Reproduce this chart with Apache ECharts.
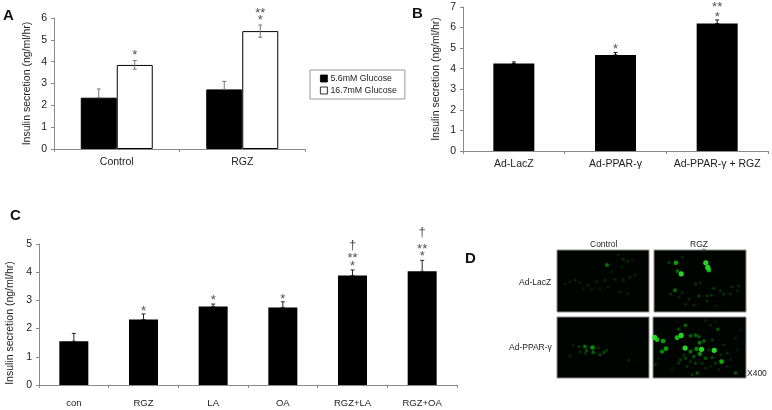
<!DOCTYPE html>
<html><head><meta charset="utf-8">
<style>html,body{margin:0;padding:0;background:#fff}#c{width:772px;height:410px}</style>
<script src="https://cdn.jsdelivr.net/npm/echarts@6/dist/echarts.min.js"></script>
</head><body><div id="c"></div>
<script>
// ---------- data ----------
const catsA = ['Control', 'RGZ'];
const lowGlucose = [2.35, 2.73];
const highGlucose = [3.85, 5.4];
const lowGlucoseErr = [[2.35, 2.75], [2.73, 3.1]];
const highGlucoseErr = [[3.65, 4.05], [5.12, 5.68]];
const catsB = ['Ad-LacZ', 'Ad-PPAR-γ', 'Ad-PPAR-γ + RGZ'];
const valuesB = [4.25, 4.67, 6.2];
const errB = [[4.25, 4.33], [4.67, 4.79], [6.2, 6.37]];
const catsC = ['con', 'RGZ', 'LA', 'OA', 'RGZ+LA', 'RGZ+OA'];
const valuesC = [1.55, 2.32, 2.78, 2.75, 3.88, 4.03];
const errC = [[1.55, 1.83], [2.32, 2.52], [2.78, 2.87], [2.75, 2.95], [3.88, 4.08], [4.03, 4.42]];
const starsA = [['Control', 4.3, '*'], ['RGZ', 5.87, '*'], ['RGZ', 6.22, '**']];
const starsB = [['Ad-PPAR-γ', 4.93, '*'], ['Ad-PPAR-γ + RGZ', 6.5, '*'], ['Ad-PPAR-γ + RGZ', 6.98, '**']];
const starsC = [['RGZ', 2.62, '*'], ['LA', 3.0, '*'], ['OA', 3.05, '*'], ['RGZ+LA', 4.2, '*'], ['RGZ+LA', 4.48, '**'], ['RGZ+LA', 4.96, '†'],
                ['RGZ+OA', 4.55, '*'], ['RGZ+OA', 4.8, '**'], ['RGZ+OA', 5.4, '†']];
// fluorescence spots: [x, y, brightness]
const spotsCtlLacZ = [[156,55,.6],[205,38,.22],[218,45,.2],[190,25,.14],[232,42,.14],[60,100,.2],[45,105,.16],[75,108,.18],[100,115,.18],[125,105,.16],[150,100,.18],[180,98,.2],[205,100,.22],[225,92,.18],[240,85,.13],[110,128,.14],[85,125,.12],[195,135,.14],[218,140,.13],[160,120,.12],[30,112,.1],[135,125,.12],[170,75,.1],[200,60,.12]];
const spotsRgzLacZ = [[71,46,.8],[161,46,1],[167,60,1],[170,68,.9],[87,79,1],[76,71,.55],[50,45,.3],[90,30,.2],[68,128,.55],[130,110,.25],[145,105,.18],[185,122,.3],[240,118,.25],[260,115,.22],[205,130,.22],[215,140,.22],[255,130,.2],[140,145,.35],[165,145,.25],[178,143,.25],[55,140,.22],[90,135,.22],[110,155,.22],[125,172,.22],[100,170,.18],[165,160,.22],[190,175,.15],[235,140,.18],[155,8,.3],[80,150,.18]];
const spotsCtlPpar = [[113,98,.75],[90,95,.55],[95,108,.4],[115,113,.5],[135,120,.35],[147,113,.35],[155,107,.3],[92,116,.25],[72,95,.25],[75,112,.18],[45,125,.18],[222,137,.22],[55,90,.13],[130,100,.18]];
const spotsRgzPpar = [[87,61,1],[75,68,.9],[100,30,.5],[80,42,.35],[8,67,1],[15,74,.9],[33,78,.8],[42,101,.8],[30,110,.7],[99,99,1],[148,103,1],[186,106,1],[133,102,.7],[115,110,.6],[143,117,.7],[208,140,.85],[115,62,.5],[130,60,.5],[140,65,.45],[142,83,.6],[155,78,.5],[180,75,.3],[197,42,.45],[125,125,.45],[160,130,.45],[180,128,.35],[100,130,.35],[85,135,.35],[130,145,.3],[80,145,.25],[10,150,.25],[250,175,.45],[135,175,.45],[120,180,.25],[215,90,.2],[225,115,.2],[175,30,.18],[160,15,.18],[250,70,.16],[200,165,.18],[160,160,.22],[235,135,.16],[265,45,.12],[105,155,.22],[190,145,.25],[205,120,.22],[170,105,.25],[95,120,.25],[150,145,.25],[115,140,.22],[175,155,.16],[225,155,.13],[255,105,.12],[190,20,.12],[60,165,.1],[20,130,.14]];
// -----------------------------------------

const font = 'Liberation Sans, Arial, sans-serif';
const ink = '#222';
const axisGrey = '#8a8a8a';
const grids = [
  {left:54, top:18, width:251, height:131, outerBoundsMode:'none'},
  {left:463, top:7, width:305, height:144, outerBoundsMode:'none'},
  {left:39, top:244, width:418, height:141, outerBoundsMode:'none'},
  {left:557, top:250, width:92, height:62, outerBoundsMode:'none', show:true, backgroundColor:'#000400', borderColor:'#8a8a8a', borderWidth:1},
  {left:654, top:250, width:92, height:62, outerBoundsMode:'none', show:true, backgroundColor:'#000400', borderColor:'#8a8a8a', borderWidth:1},
  {left:557, top:317, width:92, height:61, outerBoundsMode:'none', show:true, backgroundColor:'#000400', borderColor:'#8a8a8a', borderWidth:1},
  {left:653, top:317, width:93, height:61, outerBoundsMode:'none', show:true, backgroundColor:'#000400', borderColor:'#8a8a8a', borderWidth:1}
];
function catAxis(i, data, size, margin){
  return {gridIndex:i, type:'category', data:data,
    axisLine:{show:true,lineStyle:{color:axisGrey,width:1}},
    axisTick:{show:true,alignWithLabel:false,length:3,lineStyle:{color:axisGrey}},
    axisLabel:{color:ink,fontFamily:font,fontSize:size,margin:margin,interval:0},splitLine:{show:false}};
}
function valAxis(i, max, size, gap, pad){
  return {gridIndex:i, type:'value', min:0, max:max, interval:1,
    name:'Insulin secretion (ng/ml/hr)', nameLocation:'middle', nameRotate:90, nameGap:gap,
    nameTextStyle:{color:ink,fontFamily:font,fontSize:size,padding:[0,pad,0,0]},
    axisLine:{show:true,lineStyle:{color:axisGrey,width:1}},
    axisTick:{show:true,length:3,lineStyle:{color:axisGrey}},
    axisLabel:{color:ink,fontFamily:font,fontSize:size,margin:7},splitLine:{show:false}};
}
function imgAxes(i, x0, x1, y0, y1){
  const h = {show:false};
  return [
    {gridIndex:i,type:'value',min:x0,max:x1,axisLine:h,axisTick:h,axisLabel:h,splitLine:h},
    {gridIndex:i,type:'value',min:y0,max:y1,inverse:true,axisLine:h,axisTick:h,axisLabel:h,splitLine:h}
  ];
}
function errSeries(i, cats, errs, color, offset){
  return {type:'custom', xAxisIndex:i, yAxisIndex:i, z:5, silent:true, clip:false,
    data: errs.map((e,k)=>[cats[k], e[0], e[1]]),
    renderItem:(p,api)=>{
      const a = api.coord([api.value(0), api.value(1)]);
      const b = api.coord([api.value(0), api.value(2)]);
      const x = a[0] + offset;
      const st = {stroke:color, lineWidth:1};
      return {type:'group',children:[
        {type:'line',shape:{x1:x,y1:a[1],x2:x,y2:b[1]},style:st},
        {type:'line',shape:{x1:x-2,y1:b[1],x2:x+2,y2:b[1]},style:st},
        {type:'line',shape:{x1:x-2,y1:a[1],x2:x+2,y2:a[1]},style:st}
      ]};
    }};
}
function markSeries(i, marks, offset, size){
  return {type:'scatter', xAxisIndex:i, yAxisIndex:i, symbolSize:0, z:6, silent:true, clip:false,
    data: marks.map(m=>({value:[m[0],m[1]],label:{formatter:m[2]}})),
    label:{show:true,position:'inside',offset:[offset,0],color:ink,fontFamily:font,fontSize:size,fontWeight:'normal'}};
}
function spotSeries(i, spots){
  return {type:'scatter', xAxisIndex:i, yAxisIndex:i, silent:true, z:4,
    data:spots,
    symbolSize:v=>2.2+v[2]*3,
    itemStyle:{color:p=>{const b=p.value[2];const w=b>.8?Math.round((b-.8)*250):0;return 'rgba('+w+','+Math.round(30+b*225)+','+w+','+(0.55+b*.45)+')';},
      shadowColor:'rgba(20,120,20,.35)',shadowBlur:1.5}};
}
function txt(x,y,t,size,weight){
  return {type:'text',left:x,top:y,silent:true,
    style:{text:t,fill:weight?'#111':ink,font:(weight?'bold ':'')+size+'px '+font}};
}
const ia = [imgAxes(3,6,282,10,195),imgAxes(4,5,282,8,193),imgAxes(5,6,283,6,190),imgAxes(6,3,281,5,190)];
const option = {
  animation:false, backgroundColor:'#fff',
  grid:grids,
  xAxis:[catAxis(0,catsA,10.5,8),catAxis(1,catsB,10.5,8),catAxis(2,catsC,9.5,13),ia[0][0],ia[1][0],ia[2][0],ia[3][0]],
  yAxis:[valAxis(0,6,10.5,21,0),valAxis(1,7,10.5,21,0),valAxis(2,5,10.5,20,17),ia[0][1],ia[1][1],ia[2][1],ia[3][1]],
  legend:{data:[{name:'5.6mM Glucose',icon:'rect'},{name:'16.7mM Glucose',icon:'rect'}],left:310,top:70,orient:'vertical',
    borderColor:'#999',borderWidth:1,padding:[4,8,4,10],itemGap:3,itemWidth:7,itemHeight:7,
    itemStyle:{borderWidth:0.8},
    textStyle:{color:ink,fontFamily:font,fontSize:8.8,padding:[0,0,0,-2]}},
  series:[
    {name:'5.6mM Glucose',type:'bar',xAxisIndex:0,yAxisIndex:0,data:lowGlucose,barWidth:36,barGap:0,
      itemStyle:{color:'#000',borderColor:'#000',borderWidth:1}},
    {name:'16.7mM Glucose',type:'bar',xAxisIndex:0,yAxisIndex:0,data:highGlucose,barWidth:36,barGap:0,
      itemStyle:{color:'#fff',borderColor:'#000',borderWidth:1}},
    errSeries(0,catsA,lowGlucoseErr,'#777',-18),
    errSeries(0,catsA,highGlucoseErr,'#777',18),
    markSeries(0,starsA,18,13),
    {type:'bar',xAxisIndex:1,yAxisIndex:1,data:valuesB,barWidth:41,itemStyle:{color:'#000'}},
    errSeries(1,catsB,errB,'#111',0),
    markSeries(1,starsB,0,13),
    {type:'bar',xAxisIndex:2,yAxisIndex:2,data:valuesC,barWidth:29,itemStyle:{color:'#000'}},
    errSeries(2,catsC,errC,'#222',0),
    markSeries(2,starsC,0,13),
    spotSeries(3,spotsCtlLacZ),spotSeries(4,spotsRgzLacZ),spotSeries(5,spotsCtlPpar),spotSeries(6,spotsRgzPpar)
  ],
  graphic:[
    txt(3,8,'A',15,true), txt(412,6,'B',15,true), txt(10,208,'C',15,true), txt(465,251,'D',15,true),
    txt(590,240,'Control',8.5), txt(690,240,'RGZ',8.5),
    txt(519,278,'Ad-LacZ',8.5), txt(509,343,'Ad-PPAR-γ',8.5), txt(747,369,'X400',8.5)
  ]
};
echarts.init(document.getElementById('c')).setOption(option);
</script></body></html>
